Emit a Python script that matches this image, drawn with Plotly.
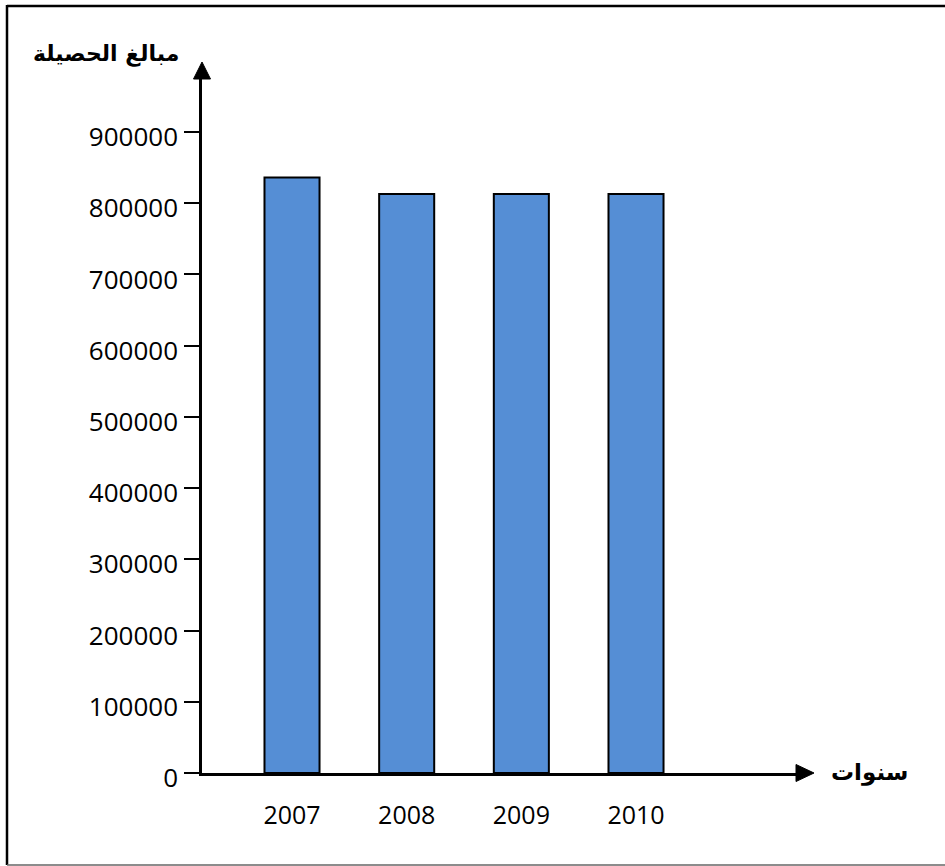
import plotly.graph_objects as go

# ---- data ----
years = ["2007", "2008", "2009", "2010"]
amounts = [836000, 813000, 813000, 813000]
y_tick_values = [0, 100000, 200000, 300000, 400000, 500000, 600000, 700000, 800000, 900000]
y_tick_labels = ["0", "100000", "200000", "300000", "400000", "500000",
                 "600000", "700000", "800000", "900000"]
y_title = "مبالغ الحصيلة"
x_title = "سنوات"

W, H = 945, 866
L, R, T, B = 202, 797, 78, 773  # plot area in pixels
pw, ph = R - L, B - T


def px(x):
    return (x - L) / pw


def py(y):
    return (B - y) / ph


fig = go.Figure()
fig.add_trace(go.Bar(
    x=years, y=amounts, width=0.48,
    marker=dict(color="#558ED5", line=dict(color="black", width=2)),
    hoverinfo="skip",
))

shapes = []
# y axis arrow head
shapes.append(dict(type="path", xref="paper", yref="paper",
                   path=f"M {px(193.5)} {py(79)} L {px(210.5)} {py(79)} L {px(202)} {py(62)} Z",
                   fillcolor="black", line=dict(color="black", width=1)))
# x axis arrow head
shapes.append(dict(type="path", xref="paper", yref="paper",
                   path=f"M {px(796)} {py(764.5)} L {px(796)} {py(781.5)} L {px(814)} {py(773)} Z",
                   fillcolor="black", line=dict(color="black", width=1)))
# frame
shapes.append(dict(type="line", xref="paper", yref="paper",
                   x0=px(7), x1=px(945), y0=py(6), y1=py(6),
                   line=dict(color="black", width=2.5)))
shapes.append(dict(type="line", xref="paper", yref="paper",
                   x0=px(7), x1=px(7), y0=py(5), y1=py(865),
                   line=dict(color="black", width=2.5)))
shapes.append(dict(type="line", xref="paper", yref="paper",
                   x0=px(7), x1=px(945), y0=py(865), y1=py(865),
                   line=dict(color="#666666", width=1.5)))

annotations = [
    dict(text=f"<b>{y_title}</b>", xref="paper", yref="paper",
         x=px(106), y=py(54), xanchor="center", yanchor="middle", showarrow=False,
         font=dict(family="DejaVu Sans", size=22, color="black")),
    dict(text=f"<b>{x_title}</b>", xref="paper", yref="paper",
         x=px(869), y=py(772), xanchor="center", yanchor="middle", showarrow=False,
         font=dict(family="DejaVu Sans", size=23, color="black")),
]

fig.update_layout(
    width=W, height=H,
    margin=dict(l=L, r=W - R, t=T, b=H - B, pad=0),
    paper_bgcolor="white", plot_bgcolor="white",
    showlegend=False,
    shapes=shapes, annotations=annotations,
    xaxis=dict(type="category", range=[-0.785, 4.404], showline=True,
               linecolor="black", linewidth=2.5, ticks="", showgrid=False,
               zeroline=False, ticklabelstandoff=18,
               tickfont=dict(family="Open Sans", size=25, color="black")),
    yaxis=dict(range=[0, 975850], showline=True, linecolor="black", linewidth=2.5,
               ticks="outside", ticklen=15, tickwidth=2, tickcolor="black",
               tickvals=y_tick_values, ticktext=y_tick_labels,
               showgrid=False, zeroline=False, ticklabelstandoff=1,
               ticklabelshift=5,
               tickfont=dict(family="Open Sans", size=26, color="black")),
)

fig.write_html("out.html")
